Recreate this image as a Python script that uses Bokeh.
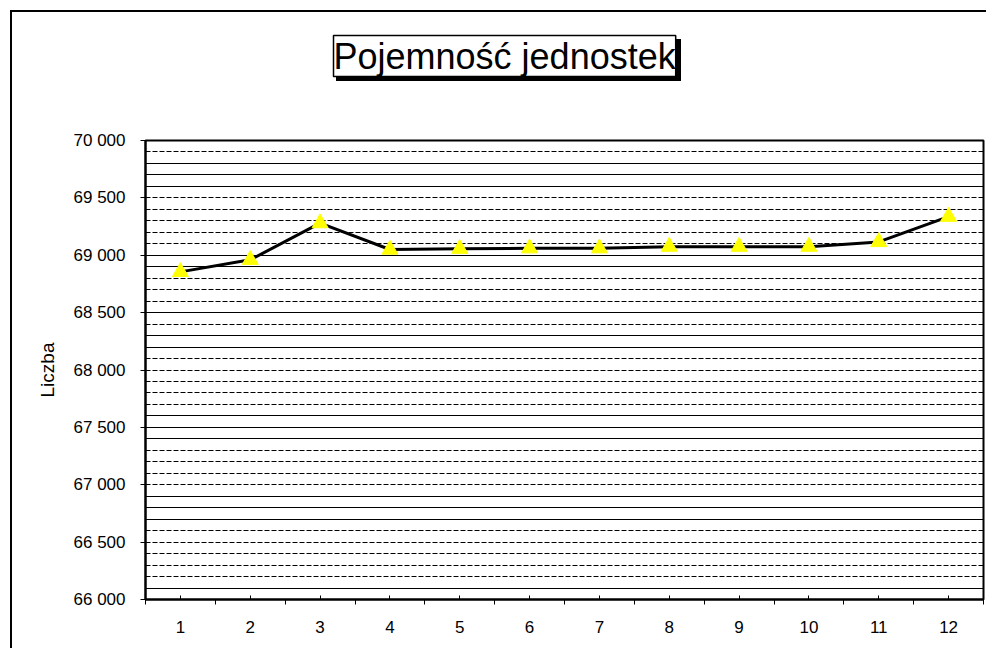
from bokeh.plotting import figure
from bokeh.models import (Range1d, FixedTicker, Grid, Title, InlineStyleSheet,
                          CustomJSTickFormatter)
from bokeh.embed import file_html
from bokeh.resources import INLINE

# ---- data ----
categories = list(range(1, 13))
values = [68855, 68960, 69280, 69050, 69057, 69061, 69061, 69075, 69075, 69075, 69116, 69336]
title_text = "Pojemność jednostek"
y_label = "Liczba"
y_ticks = list(range(66000, 70001, 500))
grid_values = list(range(66100, 70000, 100))
solid_grid = [69800, 69700, 69600, 69000, 68900, 68500, 68300, 68200,
              67600, 67500, 67400, 66900, 66800, 66700, 66100]
dashed_grid = [g for g in grid_values if g not in solid_grid]

FONT = "Liberation Sans"

# frame: left 145, top 140, right 983, bottom 599 (canvas px)
W, H = 986, 648
FL, FT, FR, FB = 145, 140, 983, 599

p = figure(width=W, height=H, output_backend="svg", toolbar_location=None,
           x_range=Range1d(0.5, 12.5), y_range=Range1d(66000, 70000),
           min_border_left=FL, min_border_right=W - FR, min_border_top=FT,
           min_border_bottom=H - FB)
p.background_fill_color = "white"
p.border_fill_color = "white"
p.outline_line_color = "black"
p.outline_line_width = 2
p.xgrid.visible = False
p.ygrid.visible = False

p.add_layout(Grid(dimension=1, ticker=FixedTicker(ticks=dashed_grid),
                  grid_line_color="black", grid_line_dash="5 2", grid_line_width=1))
p.add_layout(Grid(dimension=1, ticker=FixedTicker(ticks=solid_grid),
                  grid_line_color="black", grid_line_width=1))

# y axis
p.yaxis.ticker = FixedTicker(ticks=y_ticks)
p.yaxis.formatter = CustomJSTickFormatter(
    code="return tick.toFixed(0).replace(/\\B(?=(\\d{3})+(?!\\d))/g, ' ');")
p.yaxis.major_tick_out = 5
p.yaxis.major_tick_in = 0
p.yaxis.minor_tick_out = 0
p.yaxis.minor_tick_in = 0
p.yaxis.major_label_standoff = 15
p.yaxis.axis_line_width = 2
p.yaxis.axis_line_color = "black"
p.yaxis.major_tick_line_color = "black"
p.yaxis.major_label_text_font = FONT
p.yaxis.major_label_text_font_size = "17px"
p.yaxis.major_label_text_color = "black"
p.yaxis.axis_label = y_label
p.yaxis.axis_label_text_font = FONT
p.yaxis.axis_label_text_font_size = "19px"
p.yaxis.axis_label_text_font_style = "normal"
p.yaxis.axis_label_text_color = "black"
p.yaxis.axis_label_standoff = 13

# x axis
p.xaxis.ticker = FixedTicker(ticks=categories,
                             minor_ticks=[c - 0.5 for c in categories] + [categories[-1] + 0.5])
p.xaxis.major_tick_in = 4
p.xaxis.major_tick_out = 0
p.xaxis.minor_tick_in = 0
p.xaxis.minor_tick_out = 5
p.xaxis.major_label_standoff = 16
p.xaxis.axis_line_width = 2
p.xaxis.axis_line_color = "black"
p.xaxis.major_tick_line_color = "black"
p.xaxis.minor_tick_line_color = "black"
p.xaxis.major_label_text_font = FONT
p.xaxis.major_label_text_font_size = "17px"
p.xaxis.major_label_text_color = "black"

# series
p.line(categories, values, line_color="black", line_width=3)
p.scatter(categories, values, marker="triangle", size=16,
          fill_color="#FFFF00", line_color="#FFFF00")

# spacer panel (nearest the frame) so the boxed title sits high in the top margin
p.add_layout(Title(text=" ", text_font=FONT, text_font_size="12px", standoff=48), "above")
# boxed title (real text) drawn by Bokeh with its own white box and black border
p.add_layout(Title(text=title_text, align="left", offset=333 - FL, standoff=0,
                   text_font=FONT, text_font_size="36px", text_font_style="normal",
                   text_color="black", background_fill_color="white",
                   border_line_color="black", border_line_width=1.5), "above")

# drop shadow of the title box (right and bottom strips, built from 5px squares)
# and the outer chart border, both via CSS outside the title text
corner_x, corner_y = 676, 76
shadows = [f"0 {-5 * k}px 0 0 black" for k in range(1, 8)] + ["0 -37px 0 0 black"]
shadows += [f"{-5 * k}px 0 0 0 black" for k in range(1, 69)]
css = (
    ":host::before { content: ''; position: absolute; left: 10px; top: 10px; right: 0; bottom: 0;"
    " border-left: 2px solid black; border-top: 2px solid black; z-index: 10;"
    " pointer-events: none; background: transparent; }\n"
    f":host::after {{ content: ''; position: absolute; left: {corner_x}px; top: {corner_y}px;"
    " width: 5px; height: 5px; background: black; z-index: 10; pointer-events: none;"
    f" box-shadow: {', '.join(shadows)}; }}\n"
)
p.stylesheets = [InlineStyleSheet(css=css)]

open("out.html", "w").write(file_html(p, INLINE))
